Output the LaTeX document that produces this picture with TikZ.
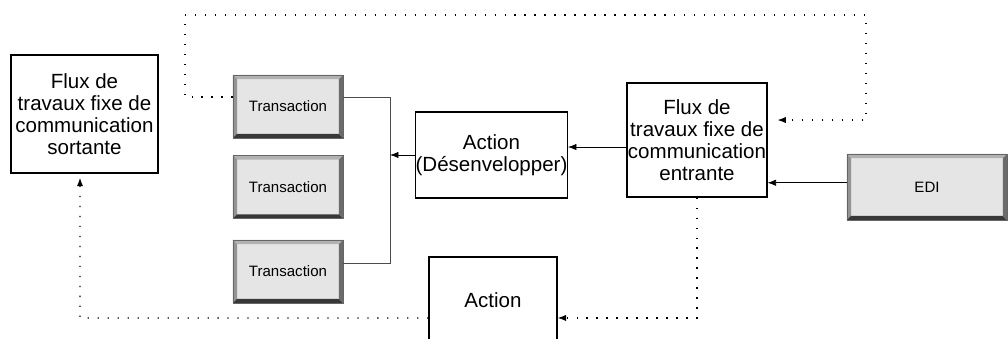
\documentclass[tikz,border=0pt]{standalone}
\usepackage{fontspec}
\setmainfont{Liberation Sans}
\usetikzlibrary{arrows.meta}

\tikzset{
  bevel/.style={path picture={
    \fill[black!30] (path picture bounding box.north west) -- (path picture bounding box.north east)
      -- ([shift={(-3pt,-3pt)}]path picture bounding box.north east)
      -- ([shift={(3pt,-3pt)}]path picture bounding box.north west) -- cycle;
    \fill[black!42] (path picture bounding box.north west) -- (path picture bounding box.south west)
      -- ([shift={(3pt,3pt)}]path picture bounding box.south west)
      -- ([shift={(3pt,-3pt)}]path picture bounding box.north west) -- cycle;
    \fill[black!78] (path picture bounding box.south west) -- (path picture bounding box.south east)
      -- ([shift={(-3pt,3pt)}]path picture bounding box.south east)
      -- ([shift={(3pt,3pt)}]path picture bounding box.south west) -- cycle;
    \fill[black!58] (path picture bounding box.north east) -- (path picture bounding box.south east)
      -- ([shift={(-3pt,3pt)}]path picture bounding box.south east)
      -- ([shift={(-3pt,-3pt)}]path picture bounding box.north east) -- cycle;
  }},
  transbox/.style={draw=black!60,line width=0.4pt,fill=black!10,inner sep=0pt,
    minimum width=2.75cm,minimum height=1.575cm,bevel},
  dotline/.style={line width=0.9pt,dash pattern=on 0.9pt off 6.2pt,-{Latex[length=6pt,width=4.5pt]}},
}

\begin{document}
\begin{tikzpicture}[x=0.025cm,y=-0.025cm]
  \useasboundingbox (0,0) rectangle (1008,339);
  \clip (0,0) rectangle (1008,339);

  \begin{scope}[every node/.style={draw,line width=0.8pt,align=center,inner sep=0pt,font=\fontsize{14.6}{15.5}\selectfont}]
    \node[minimum width=3.675cm,minimum height=2.95cm] (out) at (84.5,114) {Flux de\\travaux fixe de\\communication\\sortante};
    \node[minimum width=3.525cm,minimum height=2.15cm] (unpack) at (491.5,155) {Action\\(Désenvelopper)};
    \node[minimum width=3.5cm,minimum height=2.85cm] (in) at (697,140) {Flux de\\travaux fixe de\\communication\\entrante};
    \node[minimum width=3.2cm,minimum height=2.5cm,text depth=10.5pt] (act) at (493,307) {Action};
  \end{scope}

  \begin{scope}[every node/.style={transbox,font=\fontsize{10.7}{12}\selectfont}]
    \node (t1) at (288,106.5) {Transaction};
    \node (t2) at (288,187) {Transaction};
    \node (t3) at (288,271.5) {Transaction};
    \node[minimum width=4cm,minimum height=1.65cm] (edi) at (927,187) {EDI};
  \end{scope}

  % bracket round the transactions
  \coordinate (j1) at (390,97);
  \coordinate (j3) at (390,263);
  \draw[black!70,line width=0.5pt] (t1.east |- j1) -- (j1) -- (j3) -- (t3.east |- j3);

  \begin{scope}[every edge/.style={draw,line width=0.5pt,-{Latex[length=6pt,width=4.5pt]}}]
    \path (unpack.west) edge (unpack.west -| j1);
    \path ([yshift=-5pt]in.west) edge ([yshift=-5pt]in.west -| unpack.east);
    \path ([yshift=3pt]edi.west) edge ([yshift=3pt]edi.west -| in.east);
  \end{scope}

  % dotted loops
  \coordinate (c1) at (185,15);
  \coordinate (c2) at (866,15);
  \coordinate (c3) at (80,318);
  \begin{scope}[every path/.style={dotline}]
    \draw ([yshift=6.7pt]t1.west) -| (c1) -- (c2) |- ([xshift=7pt,yshift=14.2pt]in.east);
    \draw (in.south) |- ([yshift=-7.8pt]act.east);
    \draw ([yshift=-7.8pt]act.west) -- (c3) -- ([xshift=-3.2pt,yshift=-3pt]out.south);
  \end{scope}

\end{tikzpicture}
\end{document}
